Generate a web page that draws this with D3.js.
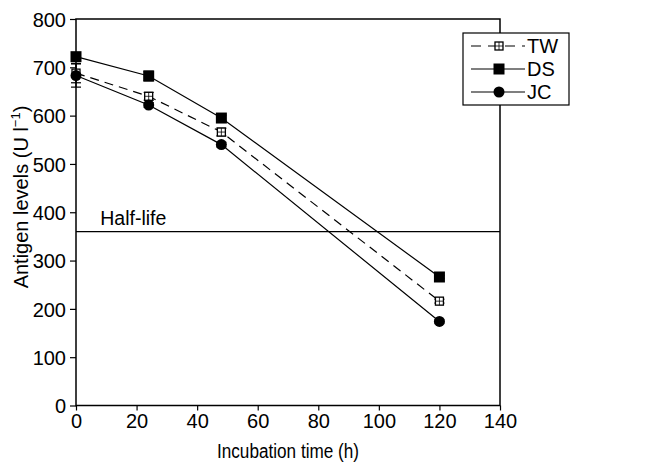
<!DOCTYPE html>
<html>
<head>
<meta charset="utf-8">
<script src="https://cdn.jsdelivr.net/npm/d3@7"></script>
<style>
  body { margin: 0; background: #fff; }
  text { font-family: "Liberation Sans", Arial, sans-serif; fill: #000; }
</style>
</head>
<body>
<div id="chart"></div>
<script>
// Incubation times (h)
const times = [0, 24, 48, 120];
// Series values (U l-1)
const twValues = [688, 640, 566, 216];
const dsValues = [722, 682, 595, 266];
const jcValues = [683, 622, 540, 174];
// Error bar half-widths
const twErrors = [20, 8, 8, 4];
const dsErrors = [6, 10, 6, 3];
const jcErrors = [24, 5, 5, 3];
const halfLife = 360;
const xTicks = [0, 20, 40, 60, 80, 100, 120, 140];
const yTicks = [0, 100, 200, 300, 400, 500, 600, 700, 800];

const width = 672, height = 467;
const margin = {top: 19, right: 172, bottom: 62, left: 76};
const tickFont = "20px";

const svg = d3.select("#chart").append("svg")
    .attr("width", width)
    .attr("height", height);

const x = d3.scaleLinear().domain([0, 140]).range([margin.left, width - margin.right]);
const y = d3.scaleLinear().domain([0, 800]).range([height - margin.bottom + 0.5, margin.top]);

// Frame
svg.append("rect")
    .attr("x", x(0)).attr("y", y(800))
    .attr("width", x(140) - x(0)).attr("height", y(0) - y(800))
    .attr("fill", "none").attr("stroke", "#000").attr("stroke-width", 1.5);

// Axes
const xAxis = svg.append("g")
    .attr("transform", `translate(0,${y(0)})`)
    .call(d3.axisBottom(x).tickValues(xTicks).tickSize(5).tickPadding(3).tickFormat(d3.format("d")));
const yAxis = svg.append("g")
    .attr("transform", `translate(${x(0)},0)`)
    .call(d3.axisLeft(y).tickValues(yTicks).tickSize(6).tickPadding(4).tickFormat(d3.format("d")));
[xAxis, yAxis].forEach(a => {
  a.attr("font-size", null).attr("font-family", null);
  a.select(".domain").remove();
  a.selectAll("line").attr("stroke", "#000").attr("stroke-width", 1.2);
  a.selectAll("text").style("font-size", tickFont);
});
yAxis.selectAll("text").attr("dy", "0.36em");

// Axis titles
svg.append("text")
    .attr("x", (x(0) + x(140)) / 2).attr("y", height - 9)
    .attr("text-anchor", "middle")
    .attr("textLength", 142)
    .attr("lengthAdjust", "spacingAndGlyphs")
    .style("font-size", "19.5px")
    .text("Incubation time (h)");
svg.append("text")
    .attr("transform", `translate(28,197) rotate(-90)`)
    .attr("text-anchor", "middle")
    .style("font-size", "20px")
    .html("Antigen levels (U l<tspan dy='-8' font-size='13px'>−1</tspan><tspan dy='8'>)</tspan>");

// Half-life line
svg.append("line")
    .attr("x1", x(0)).attr("x2", x(140))
    .attr("y1", y(halfLife)).attr("y2", y(halfLife))
    .attr("stroke", "#000").attr("stroke-width", 1.2);
svg.append("text")
    .attr("x", x(8)).attr("y", y(halfLife) - 7)
    .style("font-size", "19.5px")
    .text("Half-life");

const series = [
  {name: "TW", values: twValues, errors: twErrors, dash: "9,6", marker: "openSquare"},
  {name: "DS", values: dsValues, errors: dsErrors, dash: null, marker: "square"},
  {name: "JC", values: jcValues, errors: jcErrors, dash: null, marker: "circle"}
];

const line = d3.line().x(d => x(d.t)).y(d => y(d.v));

function drawMarker(g, type, cx, cy) {
  if (type === "square") {
    g.append("rect").attr("x", cx - 5.5).attr("y", cy - 5.5).attr("width", 11).attr("height", 11)
      .attr("fill", "#000");
  } else if (type === "circle") {
    g.append("circle").attr("cx", cx).attr("cy", cy).attr("r", 5.5).attr("fill", "#000");
  } else {
    // open square with a small cross inside
    g.append("rect").attr("x", cx - 4).attr("y", cy - 4).attr("width", 8).attr("height", 8)
      .attr("fill", "#fff").attr("stroke", "#000").attr("stroke-width", 1.3);
    g.append("path").attr("d", `M${cx - 4},${cy}H${cx + 4}M${cx},${cy - 4}V${cy + 4}`)
      .attr("stroke", "#000").attr("stroke-width", 0.8);
  }
}

series.forEach(s => {
  const pts = times.map((t, i) => ({t, v: s.values[i], e: s.errors[i]}));
  const g = svg.append("g");
  g.append("path")
    .attr("d", line(pts))
    .attr("fill", "none").attr("stroke", "#000").attr("stroke-width", 1.2)
    .attr("stroke-dasharray", s.dash);
  // Error bars
  pts.forEach(p => {
    g.append("line")
      .attr("x1", x(p.t)).attr("x2", x(p.t))
      .attr("y1", y(p.v - p.e)).attr("y2", y(p.v + p.e))
      .attr("stroke", "#000").attr("stroke-width", 1.2);
    [p.v - p.e, p.v + p.e].forEach(v => {
      g.append("line")
        .attr("x1", x(p.t) - 5).attr("x2", x(p.t) + 5)
        .attr("y1", y(v)).attr("y2", y(v))
        .attr("stroke", "#000").attr("stroke-width", 1.2);
    });
  });
  pts.forEach(p => drawMarker(g, s.marker, x(p.t), y(p.v)));
});

// Legend
const leg = {x: 463, y: 33, w: 106, h: 72, dy: 23};
svg.append("rect")
    .attr("x", leg.x).attr("y", leg.y).attr("width", leg.w).attr("height", leg.h)
    .attr("fill", "#fff").attr("stroke", "#000").attr("stroke-width", 1.2);
series.forEach((s, i) => {
  const cy = leg.y + 13 + i * leg.dy;
  const g = svg.append("g");
  g.append("line")
    .attr("x1", leg.x + 8).attr("x2", leg.x + 62)
    .attr("y1", cy).attr("y2", cy)
    .attr("stroke", "#000").attr("stroke-width", 1.2)
    .attr("stroke-dasharray", s.dash ? "10,7" : null);
  drawMarker(g, s.marker, leg.x + 36, cy);
  g.append("text")
    .attr("x", leg.x + 64).attr("y", cy)
    .attr("dy", "0.36em")
    .style("font-size", "20px")
    .text(s.name);
});
</script>
</body>
</html>
